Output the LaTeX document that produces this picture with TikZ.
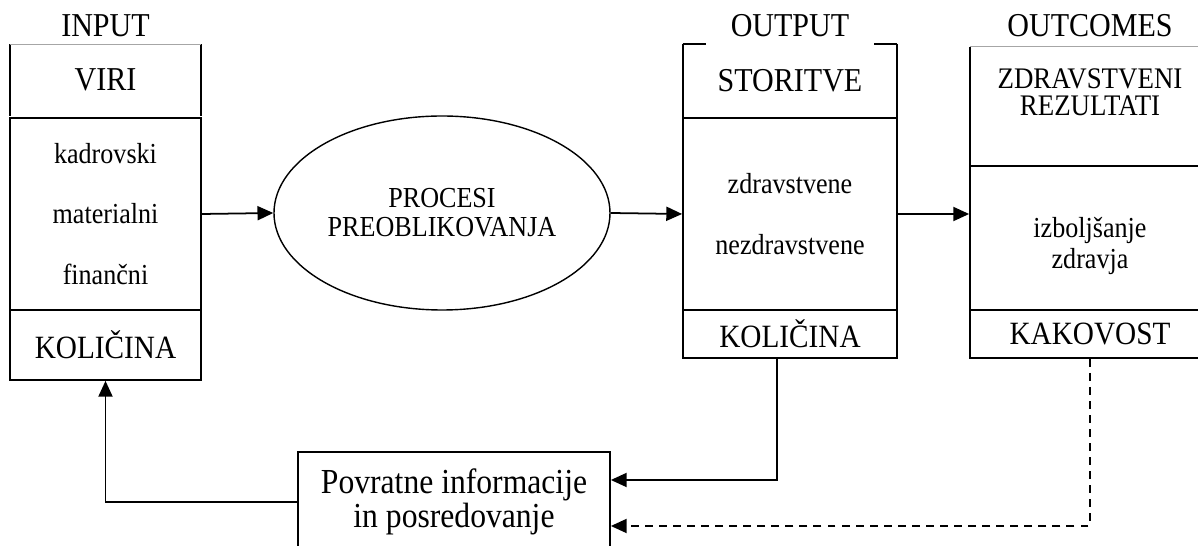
\documentclass[tikz,border=0pt]{standalone}
\usepackage{fontspec}
\setmainfont{Liberation Serif}[FakeStretch=0.9]
\usetikzlibrary{arrows.meta,shapes.geometric}

\newcommand\px{0.02cm}
\newcommand\hdfont{\fontsize{19}{22}\selectfont}
\newcommand\kolfont{\fontsize{18.5}{22}\selectfont}
\newcommand\vrstefont{\fontsize{16.5}{34.6}\selectfont}
\newcommand\fbfont{\fontsize{20}{17.5}\selectfont}

\tikzset{
  box/.style={draw, line width=1pt},
  sec/.style={inner sep=0pt, align=center},
  topline/.style={draw=black!35, line width=0.6pt},
  arr/.style={->, line width=1pt},
}

\begin{document}
\begin{tikzpicture}[x=0.02cm, y=-0.02cm, >={Triangle[length=9pt,width=8pt]}]
  \clip (0,0) rectangle (1198,546);

  % INPUT box
  \node[sec, font=\hdfont] (inLbl) at (105.5,26) {INPUT};
  \node[sec, font=\hdfont, minimum width={191*\px}, minimum height={71*\px}] (viri) at (105.5,80) {VIRI};
  \node[sec, box, font=\vrstefont, minimum width={191*\px}, minimum height={192*\px}] (viriVrste) at (105.5,214) {kadrovski\\materialni\\finančni};
  \node[sec, box, font=\kolfont, minimum width={191*\px}, minimum height={70*\px}] (viriKol) at (105.5,345) {KOLIČINA};
  \draw[box] (viri.north west) -- (viri.south west) (viri.north east) -- (viri.south east);
  \draw[topline] (viri.north west) -- (viri.north east);

  % process
  \node[sec, ellipse, draw, line width=0.8pt, font=\fontsize{16.5}{16.5}\selectfont,
        minimum width={336*\px}, minimum height={194*\px}] (proc) at (442,213) {PROCESI\\PREOBLIKOVANJA};

  % OUTPUT box
  \node[sec, font=\hdfont] (outLbl) at (790,26) {OUTPUT};
  \node[sec, font=\hdfont, minimum width={214*\px}, minimum height={74*\px}] (stor) at (790,81) {STORITVE};
  \node[sec, box, font=\vrstefont, minimum width={214*\px}, minimum height={192*\px}] (storVrste) at (790,214) {zdravstvene\\nezdravstvene};
  \node[sec, box, font=\kolfont, minimum width={214*\px}, minimum height={48*\px}] (storKol) at (790,334) {KOLIČINA};
  \draw[box] (stor.north west) -- (stor.south west) (stor.north east) -- (stor.south east);
  \draw[box] (stor.north west) -- ++(23,0);
  \draw[box] (stor.north east) -- ++(-23,0);

  % OUTCOMES box
  \node[sec, font=\hdfont] (izLbl) at (1090,26) {OUTCOMES};
  \node[sec, minimum width={240*\px}, minimum height={119*\px}] (rez) at (1090,106.5) {};
  \node[sec, font=\fontsize{17}{15.5}\selectfont] (rezTxt) at (1090,92) {ZDRAVSTVENI\\REZULTATI};
  \node[sec, box, minimum width={240*\px}, minimum height={144*\px}] (rezIzb) at (1090,238) {};
  \node[sec, font=\fontsize{16.5}{18}\selectfont] (rezIzbTxt) at (1090,246) {izboljšanje\\zdravja};
  \node[sec, box, font=\kolfont, minimum width={240*\px}, minimum height={48*\px}] (rezKak) at (1090,334) {KAKOVOST};
  \draw[box] (rez.north west) -- (rez.south west) (rez.north east) -- (rez.south east);
  \draw[topline] (rez.north west) -- (rez.north east);

  % feedback
  \node[sec, box, font=\fbfont, minimum width={312*\px}, minimum height={100*\px}] (povr) at (454,502) {Povratne informacije\\in posredovanje};

  % connectors
  \draw[arr] (viriVrste.east) -- (proc.west);
  \draw[arr] (proc.east) -- (storVrste.west);
  \draw[arr] (storVrste.east) -- (storVrste.east -| rezIzb.west);
  \coordinate (fbOut) at ([xshift=-13*\px]storKol.south);
  \draw[arr] (fbOut) |- ([yshift=22*\px]povr.east);
  \draw[arr, dash pattern=on 4.5pt off 3.5pt] (rezKak.south) |- ([yshift=-24*\px]povr.east);
  \draw[arr] (povr.west) -| (viriKol.south);
\end{tikzpicture}
\end{document}
